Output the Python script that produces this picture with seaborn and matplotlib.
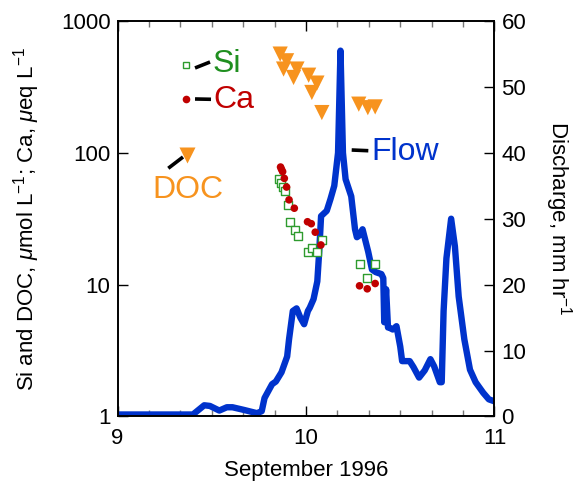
import numpy as np
import pandas as pd
import matplotlib
matplotlib.use("Agg")
import matplotlib.pyplot as plt
import matplotlib.ticker as mticker
from matplotlib.lines import Line2D
import seaborn as sns

# ---------------- data ----------------
flow_day = [9.00, 9.40, 9.43, 9.46, 9.49, 9.54, 9.58, 9.61, 9.67, 9.74, 9.765,
            9.78, 9.82, 9.84, 9.87, 9.90, 9.91, 9.93, 9.95, 9.97, 9.99, 10.01,
            10.02, 10.04, 10.06, 10.07, 10.08, 10.11, 10.13, 10.15, 10.17,
            10.183, 10.196, 10.21, 10.24, 10.26, 10.27, 10.28, 10.30, 10.33,
            10.35, 10.37, 10.40, 10.41, 10.415, 10.425, 10.435, 10.44, 10.46,
            10.48, 10.50, 10.51, 10.55, 10.57, 10.60, 10.63, 10.66, 10.68,
            10.71, 10.72, 10.73, 10.745, 10.77, 10.79, 10.81, 10.84, 10.87,
            10.90, 10.94, 10.97, 11.00]
flow_val = [0.3, 0.3, 1.0, 1.7, 1.6, 0.9, 1.4, 1.4, 1.0, 0.5, 0.8,
            2.8, 4.9, 5.3, 6.7, 9.1, 11.7, 16.0, 16.4, 15.0, 14.0, 16.0,
            16.5, 17.8, 20.5, 25.0, 30.4, 31.2, 33.0, 35.0, 40.0,
            55.5, 40.0, 36.0, 33.4, 28.4, 27.2, 27.4, 28.4, 25.0,
            22.3, 21.9, 21.6, 21.0, 14.3, 19.3, 13.5, 13.5, 13.2,
            13.7, 10.6, 8.4, 8.4, 7.5, 5.9, 7.0, 8.7, 7.6,
            5.2, 5.2, 16.0, 24.0, 30.0, 25.8, 18.2, 11.7, 7.1,
            5.2, 3.6, 2.6, 2.3]

ca_day = [9.865, 9.870, 9.876, 9.885, 9.897, 9.910, 9.938, 10.008, 10.028,
          10.049, 10.079, 10.284, 10.325, 10.367]
ca_val = [78, 75, 72, 64, 55, 44, 38, 30, 29, 25, 20, 9.8, 9.3, 10.2]

si_day = [9.859, 9.868, 9.876, 9.889, 9.903, 9.916, 9.944, 9.960, 10.010,
          10.033, 10.057, 10.084, 10.284, 10.325, 10.367]
si_val = [63, 59, 55, 51, 40, 30, 26, 23.4, 17.7, 18.9, 17.7, 22, 14.4, 11.2, 14.4]

doc_day = [9.863, 9.897, 9.881, 9.952, 10.014, 9.934, 10.058, 10.031, 10.084,
           10.280, 10.328, 10.367]
doc_val = [561, 499, 432, 432, 388, 373, 338, 287, 202, 234, 220, 223]

x_ticks = [9, 10, 11]
left_ticks = [1, 10, 100, 1000]
right_ticks = [0, 10, 20, 30, 40, 50, 60]

# ---------------- style ----------------
sns.set_style("ticks")
plt.rcParams["font.family"] = ["Liberation Sans", "DejaVu Sans"]
plt.rcParams["mathtext.fontset"] = "custom"
plt.rcParams["mathtext.rm"] = "Liberation Sans"
plt.rcParams["mathtext.it"] = "Liberation Sans:italic"
plt.rcParams["mathtext.bf"] = "Liberation Sans:bold"
plt.rcParams["text.color"] = "black"
plt.rcParams["axes.labelcolor"] = "black"
plt.rcParams["xtick.color"] = "black"
plt.rcParams["ytick.color"] = "black"

BLUE = "#0033cc"
ORANGE = "#f7931e"
RED = "#c00000"
GREEN = "#1f8f1f"
FS = 16
AFS = 23

fig = plt.figure(figsize=(5.87, 4.87), dpi=100)
ax_flow = fig.add_axes([0.2002, 0.1448, 0.6422, 0.8121])
ax = ax_flow.twinx()

# flow (right axis, drawn beneath the concentrations)
df_flow = pd.DataFrame({"day": flow_day, "flow": flow_val})
sns.lineplot(data=df_flow, x="day", y="flow", ax=ax_flow, color=BLUE,
             linewidth=4.6, estimator=None, sort=False, legend=False,
             solid_joinstyle="round", solid_capstyle="round")
ax_flow.yaxis.tick_right()
ax_flow.yaxis.set_label_position("right")
ax_flow.set_ylim(0, 60)
ax_flow.set_yticks(right_ticks)
ax_flow.set_xlim(9, 11)
ax_flow.set_xticks(x_ticks)
ax_flow.set_xticklabels([str(t) for t in x_ticks])
ax_flow.xaxis.set_minor_locator(mticker.MultipleLocator(1 / 6))
ax_flow.set_ylabel("Discharge, mm hr$^{-1}$", fontsize=FS, rotation=270,
                   labelpad=34, color="black")
ax_flow.set_xlabel("September 1996", fontsize=FS, labelpad=8, color="black")
ax_flow.tick_params(axis="x", which="major", direction="in", length=7,
                    width=1, labelsize=FS, top=True, pad=8,
                    colors="black")
ax_flow.tick_params(axis="x", which="minor", direction="in", length=4,
                    width=1, color="#777777", top=True)
ax_flow.tick_params(axis="y", which="major", direction="in", length=7,
                    width=1, labelsize=FS, right=True, left=False,
                    labelright=True, labelleft=False, pad=5, colors="black")

# concentrations (left log axis)
df_ca = pd.DataFrame({"day": ca_day, "val": ca_val})
df_si = pd.DataFrame({"day": si_day, "val": si_val})
df_doc = pd.DataFrame({"day": doc_day, "val": doc_val})
sns.scatterplot(data=df_doc, x="day", y="val", ax=ax, marker="v", s=120,
                color=ORANGE, edgecolor="none", linewidth=0, zorder=3)
sns.scatterplot(data=df_si, x="day", y="val", ax=ax, marker="s", s=26,
                facecolor="white", edgecolor="#2e9b2e", linewidth=1.0, zorder=4)
sns.scatterplot(data=df_ca, x="day", y="val", ax=ax, marker="o", s=30,
                color=RED, edgecolor="none", linewidth=0, zorder=5)

ax.yaxis.tick_left()
ax.yaxis.set_label_position("left")
ax.set_yscale("log")
ax.set_ylim(1, 1000)
ax.set_yticks(left_ticks)
ax.yaxis.set_major_formatter(mticker.FixedFormatter([str(t) for t in left_ticks]))
ax.yaxis.set_minor_locator(mticker.NullLocator())
ax.set_xlim(9, 11)
ax.set_ylabel(r"Si and DOC, $\mu$mol L$^{-1}$; Ca, $\mu$eq L$^{-1}$",
              fontsize=FS, labelpad=14, color="black")
ax.set_xlabel("")
ax.tick_params(axis="y", which="major", direction="in", length=7, width=1,
               labelsize=FS, left=True, right=False, labelleft=True,
               labelright=False, pad=5, colors="black")

for a in (ax, ax_flow):
    for s in a.spines.values():
        s.set_visible(True)
        s.set_color("black")
        s.set_linewidth(1.2)

# ---------------- in-plot labels ----------------
T = ax.transAxes
def seg(x0, y0, x1, y1):
    ax.add_line(Line2D([x0, x1], [y0, y1], transform=T, color="black",
                       linewidth=2.6, solid_capstyle="butt", clip_on=False,
                       zorder=6))

# Si
ax.add_line(Line2D([0.1817], [0.8888], transform=T, marker="s", markersize=5,
                   markerfacecolor="white", markeredgecolor="#2e9b2e",
                   markeredgewidth=1.0, linestyle="none"))
seg(0.2056, 0.8812, 0.2454, 0.8963)
ax.text(0.2533, 0.8913, "Si", transform=T, color=GREEN, fontsize=AFS,
        ha="left", va="center")
# Ca
ax.add_line(Line2D([0.1817], [0.8028], transform=T, marker="o", markersize=5.5,
                   markerfacecolor=RED, markeredgecolor="none",
                   linestyle="none"))
seg(0.2056, 0.8028, 0.2480, 0.8020)
ax.text(0.2541, 0.8003, "Ca", transform=T, color=RED, fontsize=AFS,
        ha="left", va="center")
# Flow
seg(0.6212, 0.6738, 0.6653, 0.6720)
ax.text(0.6743, 0.6695, "Flow", transform=T, color=BLUE, fontsize=AFS,
        ha="left", va="center")
# DOC
ax.add_line(Line2D([0.1836], [0.6612], transform=T, marker="v", markersize=11,
                   markerfacecolor=ORANGE, markeredgecolor="none",
                   linestyle="none", zorder=7))
seg(0.1347, 0.6276, 0.1737, 0.6561)
ax.text(0.186, 0.5726, "DOC", transform=T, color=ORANGE, fontsize=AFS,
        ha="center", va="center")

fig.savefig("out.png", dpi=100)
